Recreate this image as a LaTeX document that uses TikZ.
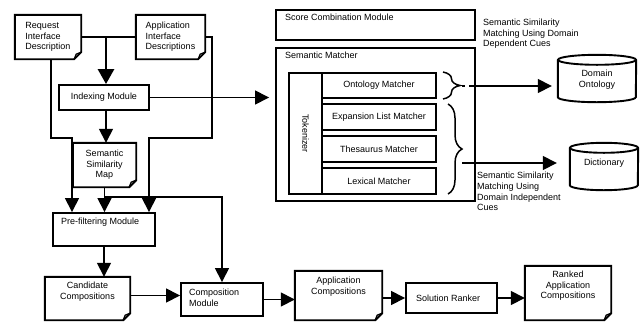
\documentclass[tikz,border=0pt]{standalone}
\usepackage{fontspec}
\setmainfont{Liberation Sans}
\usetikzlibrary{arrows.meta,decorations.pathreplacing,calc}
\newcommand\docoutline[1]{%
  \draw[boxline] (#1.north west) -- (#1.north east) -- ([yshift=7pt]#1.south east) -- ([xshift=-7pt]#1.south east) -- (#1.south west) -- cycle;
  \draw[foldline] ([xshift=-7pt]#1.south east) -- ([xshift=-5pt,yshift=5pt]#1.south east) -- ([yshift=7pt]#1.south east);}
\newcommand\cyloutline[2]{%
  \draw[boxline] ([yshift=-5pt]#1.north west) -- ([yshift=5pt]#1.south west) arc[start angle=180, end angle=360, x radius=#2, y radius=5pt] -- ([yshift=-5pt]#1.north east);
  \draw[boxline] ([yshift=-5pt]#1.north) ellipse [x radius=#2, y radius=5pt];}
\begin{document}
\begin{tikzpicture}[x=1pt,y=-1pt,
  every node/.style={font=\fontsize{9}{10.5}\selectfont, inner sep=0pt},
  blk/.style={draw, line width=1.9pt, align=center},
  doc/.style={align=center},
  txt/.style={align=left},
  conn/.style={line width=1.5pt},
  arr/.style={line width=1.5pt, -{Triangle[length=14pt,width=14pt]}},
  bigarr/.style={line width=2.8pt, -{Triangle[length=15pt,width=16pt]}},
  boxline/.style={line width=1.9pt, line join=miter},
  foldline/.style={line width=1.3pt},
  brc/.style={line width=1.5pt, decorate, decoration={brace, amplitude=#1}},
]
\useasboundingbox (0,0) rectangle (640,322);

% ---- left column ----
\node[doc, minimum width=66pt, minimum height=44pt, align=left] (req) at (48,37) {Request\\Interface\\Description};
\docoutline{req}
\node[doc, minimum width=69pt, minimum height=44pt, align=left] (app) at (170.5,37) {Application\\Interface\\Descriptions};
\docoutline{app}
\node[blk, minimum width=90pt, minimum height=25pt] (idx) at (104,97.5) {Indexing Module};
\node[doc, minimum width=63pt, minimum height=44pt] (ssm) at (104.5,165) {Semantic\\Similarity\\Map};
\docoutline{ssm}
\node[blk, minimum width=102pt, minimum height=33pt] (pf) at (104,229.5) {};
\node[txt, anchor=north west] (pft) at (61,218) {Pre-filtering Module};
\node[doc, minimum width=85pt, minimum height=43pt] (cand) at (87.5,298.5) {};
\docoutline{cand}
\node[doc, anchor=north] (candt) at (87.5,282) {Candidate\\Compositions};
\node[blk, minimum width=82pt, minimum height=33pt] (comp) at (222,299.5) {};
\node[txt, anchor=north west] (compt) at (189,289) {Composition\\Module};
\node[doc, minimum width=87pt, minimum height=49pt] (appc) at (338.5,295.5) {};
\docoutline{appc}
\node[doc, anchor=north] (appct) at (338.5,277) {Application\\Compositions};
\node[blk, minimum width=91pt, minimum height=30pt] (sr) at (451.5,298) {};
\node[txt, anchor=west] (srt) at (416,298) {Solution Ranker};
\node[doc, minimum width=86pt, minimum height=54pt] (rank) at (568,293) {};
\docoutline{rank}
\node[doc, anchor=north] (rankt) at (568,271) {Ranked\\Application\\Compositions};

% ---- right part ----
\node[blk, minimum width=199pt, minimum height=30pt] (score) at (375.5,25) {};
\node[txt, anchor=north west] (scoret) at (285,14) {Score Combination Module};
\node[blk, minimum width=199pt, minimum height=153pt] (sm) at (375.5,124.5) {};
\node[txt, anchor=north west] (smt) at (285,52) {Semantic Matcher};
\node[blk, minimum width=33pt, minimum height=121pt] (tok) at (305.5,133.5) {};
\node[rotate=-90] (tokt) at (305.5,133.5) {Tokenizer};
\node[blk, minimum width=114pt, minimum height=25pt] (ont) at (379,85.5) {Ontology Matcher};
\node[blk, minimum width=114pt, minimum height=26pt] (exp) at (379,117) {Expansion List Matcher};
\node[blk, minimum width=114pt, minimum height=26pt] (thes) at (379,149) {Thesaurus Matcher};
\node[blk, minimum width=114pt, minimum height=26pt] (lex) at (379,181) {Lexical Matcher};

\node[minimum width=78pt, minimum height=47pt, align=center] (dont) at (597,78.5) {\\[-2pt]Domain\\Ontology};
\cyloutline{dont}{39pt}
\node[minimum width=68pt, minimum height=47pt, align=center] (dict) at (604,166.5) {\\[-12pt]Dictionary};
\cyloutline{dict}{34pt}

\node[txt, anchor=north west] (lab1) at (483,19) {Semantic Similarity\\Matching Using Domain\\Dependent Cues};
\node[txt, anchor=north west, font=\fontsize{9}{10.7}\selectfont] (lab2) at (477,172) {Semantic Similarity\\Matching Using\\Domain Independent\\Cues};

% braces
\draw[brc=17pt] (443,72) -- (443,99);
\draw[brc=14pt] (448,104) -- (448,194);
\coordinate (bt1) at (462,86);
\coordinate (bt2) at (462,163);
\draw[arr, dash pattern=on 3pt off 4pt on 400pt, shorten >=6pt] (bt1) -- (bt1 -| dont.west);
\draw[arr, shorten >=13pt] (bt2) -- (bt2 -| dict.west);

% ---- connectors ----
\coordinate (j1) at (106,37);
\draw[conn] (req.east) -- (app.west);
\draw[bigarr] (j1) -- (j1 |- idx.north);
\draw[arr, shorten >=6pt] (idx.east) -- (idx.east -| sm.west);
\draw[arr] (j1 |- idx.south) -- (j1 |- ssm.north);
\coordinate (b1) at (51,138);
\coordinate (pl) at (72,0);
\draw[arr] (req.south -| b1) -- (b1) -| (pf.north -| pl);
\coordinate (b2) at (212,138);
\coordinate (pr) at (149,0);
\draw[arr] (app.east) -| (b2) -| (pf.north -| pr);
\draw[arr] (ssm.south) -- (ssm.south |- pf.north);
\coordinate (j2) at (104.5,197);
\draw[arr] (j2) -| (comp.north);
\draw[arr] (pf.south) -- (pf.south |- cand.north);
\draw[arr] ([yshift=3pt]cand.east) -- ([yshift=3pt]cand.east -| comp.west);
\draw[arr] (comp.east) -- (comp.east -| appc.west);
\draw[arr] (appc.east |- sr.west) -- (sr.west);
\draw[arr] (sr.east) -- (sr.east -| rank.west);
\end{tikzpicture}
\end{document}
